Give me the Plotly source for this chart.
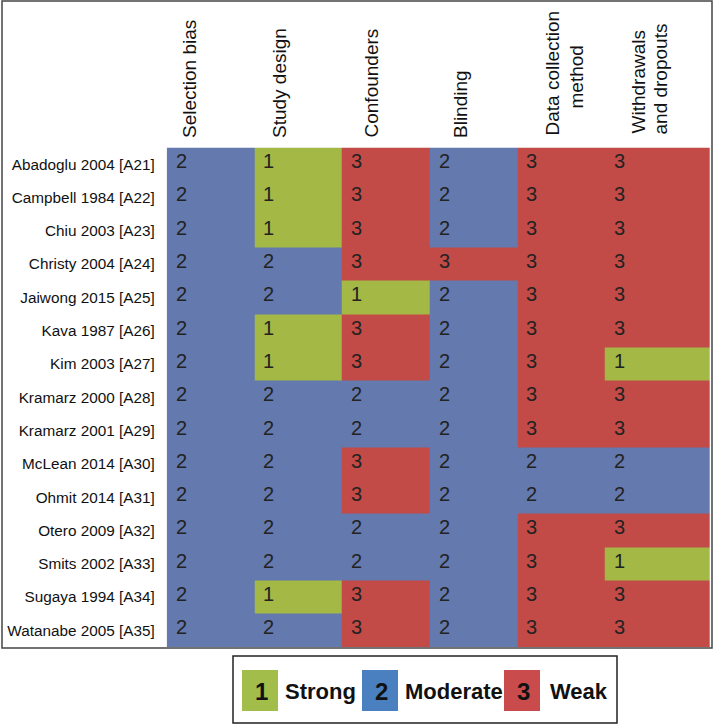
import plotly.graph_objects as go

studies = ["Abadoglu 2004 [A21]", "Campbell 1984 [A22]", "Chiu 2003 [A23]", "Christy 2004 [A24]",
           "Jaiwong 2015 [A25]", "Kava 1987 [A26]", "Kim 2003 [A27]", "Kramarz 2000 [A28]",
           "Kramarz 2001 [A29]", "McLean 2014 [A30]", "Ohmit 2014 [A31]", "Otero 2009 [A32]",
           "Smits 2002 [A33]", "Sugaya 1994 [A34]", "Watanabe 2005 [A35]"]
criteria = ["Selection bias", "Study design", "Confounders", "Blinding",
            "Data collection method", "Withdrawals and dropouts"]
header_lines = [["Selection bias"], ["Study design"], ["Confounders"], ["Blinding"],
                ["Data collection", "method"], ["Withdrawals", "and dropouts"]]
selection_bias = [2, 2, 2, 2, 2, 2, 2, 2, 2, 2, 2, 2, 2, 2, 2]
study_design = [1, 1, 1, 2, 2, 1, 1, 2, 2, 2, 2, 2, 2, 1, 2]
confounders = [3, 3, 3, 3, 1, 3, 3, 2, 2, 3, 3, 2, 2, 3, 3]
blinding = [2, 2, 2, 3, 2, 2, 2, 2, 2, 2, 2, 2, 2, 2, 2]
data_collection = [3, 3, 3, 3, 3, 3, 3, 3, 3, 2, 2, 3, 3, 3, 3]
withdrawals = [3, 3, 3, 3, 3, 3, 1, 3, 3, 2, 2, 3, 1, 3, 3]
legend_values = [1, 2, 3]
legend_labels = ["Strong", "Moderate", "Weak"]

columns = [selection_bias, study_design, confounders, blinding, data_collection, withdrawals]
z = [[col[i] for col in columns] for i in range(len(studies))]

W, H = 714, 725
GREEN, BLUE, RED = "#a3b845", "#6479ae", "#c24a47"
LEG_COLORS = ["#a3bd4a", "#4a80c0", "#c94b4b"]
FONT = "Liberation Sans, Arial, sans-serif"

x_edges = [0, 1, 2, 3, 4, 5, 6.2]

def px(x):
    return x / W

def py(y):
    return 1 - y / H

fig = go.Figure()
fig.add_trace(go.Heatmap(
    z=z, x=x_edges, y=studies,
    zmin=1, zmax=3,
    colorscale=[[0, GREEN], [0.25, GREEN], [0.25, BLUE], [0.75, BLUE], [0.75, RED], [1, RED]],
    showscale=False, hoverinfo="skip",
))

annotations = []
for i, s in enumerate(studies):
    for j in range(len(criteria)):
        annotations.append(dict(
            x=x_edges[j] + 0.08, y=s, xref="x", yref="y", text=str(z[i][j]),
            showarrow=False, xanchor="left", yanchor="middle", yshift=3,
            font=dict(family=FONT, size=20, color="#222222")))

# header placement (pixel centres of each line, bottom edge of each line)
header_pos = [[(190, 140)], [(280, 140)], [(371, 140)], [(461, 140)],
              [(552, 138), (576, 111)], [(638, 136), (660, 137)]]
for lines, pos in zip(header_lines, header_pos):
    for t, (hx, hb) in zip(lines, pos):
        annotations.append(dict(
            x=px(hx), y=py(hb), xref="paper", yref="paper", text=t, textangle=-90,
            showarrow=False, xanchor="center", yanchor="bottom",
            font=dict(family=FONT, size=19, color="#111111")))

# legend
leg_sw_x = [242, 362, 504]
leg_lab_x = [283, 403, 548]
shapes = [
    dict(type="rect", xref="paper", yref="paper", x0=px(2), x1=px(712), y0=py(648), y1=py(1),
         line=dict(color="#444444", width=1.5)),
    dict(type="rect", xref="paper", yref="paper", x0=px(233), x1=px(617), y0=py(723), y1=py(656),
         line=dict(color="#222222", width=1.5)),
]
for v, lab, sx, lx, c in zip(legend_values, legend_labels, leg_sw_x, leg_lab_x, LEG_COLORS):
    shapes.append(dict(type="rect", xref="paper", yref="paper", x0=px(sx), x1=px(sx + 36),
                       y0=py(711), y1=py(670), fillcolor=c, line=dict(width=0)))
    annotations.append(dict(x=px(sx + 19), y=py(691), xref="paper", yref="paper", text=f"<b>{v}</b>",
                            showarrow=False, xanchor="center", yanchor="middle",
                            font=dict(family=FONT, size=24, color="#111111")))
    annotations.append(dict(x=px(lx), y=py(691), xref="paper", yref="paper", text=f"<b>{lab}</b>",
                            showarrow=False, xanchor="left", yanchor="middle",
                            font=dict(family=FONT, size=22, color="#111111")))

fig.update_layout(
    width=W, height=H,
    margin=dict(l=0, r=0, t=0, b=0),
    paper_bgcolor="white", plot_bgcolor="white",
    xaxis=dict(domain=[px(166.7), px(710)], range=[0, 6.2], showticklabels=False,
               showgrid=False, zeroline=False, fixedrange=True),
    yaxis=dict(domain=[py(647), py(147.5)], autorange="reversed", showgrid=False, zeroline=False,
               ticks="", ticklabelstandoff=11,
               tickfont=dict(family=FONT, size=15.3, color="#111111")),
    annotations=annotations, shapes=shapes,
)

fig.write_html("out.html", config={"displayModeBar": False},
               post_script="document.body.style.margin='0';document.body.style.overflow='hidden';")
